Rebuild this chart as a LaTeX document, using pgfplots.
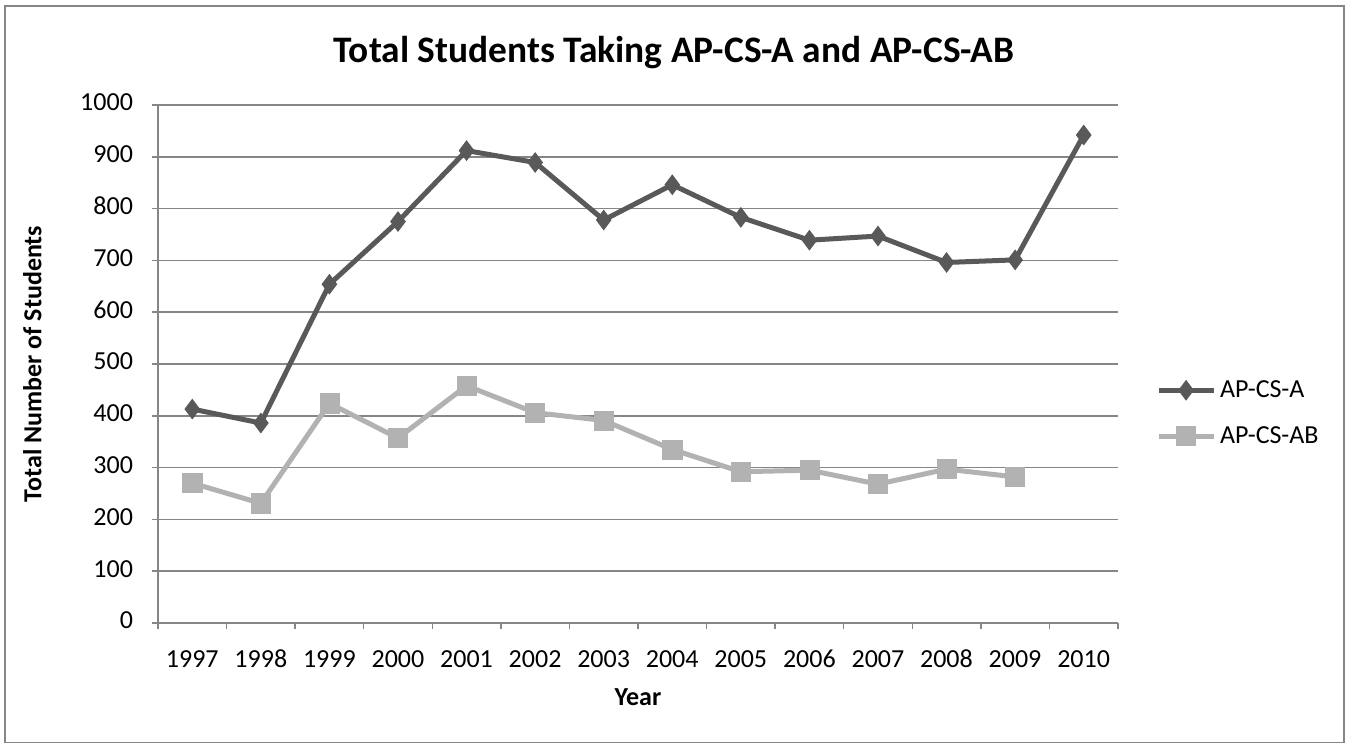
\documentclass[border=0pt]{standalone}
\usepackage{fontspec}
\setmainfont{Carlito}
\usepackage{pgfplots}
\pgfplotsset{compat=1.18}

\definecolor{seriesA}{HTML}{595959}
\definecolor{seriesAB}{HTML}{B2B2B2}
\definecolor{gridgray}{HTML}{868686}

\begin{document}
\begin{tikzpicture}
% outer chart frame (1px = 0.5pt)
\path (0,0) rectangle (673pt,372.5pt);
\draw[gridgray, line width=0.75pt] (2.5pt,1.2pt) rectangle (672pt,369.6pt);
\node[font=\fontsize{18.7}{22}\selectfont\bfseries] at (337pt,346pt) {Total Students Taking AP-CS-A and AP-CS-AB};
\begin{axis}[
    at={(79pt,61pt)}, anchor=south west,
    width=480pt, height=259pt, scale only axis,
    xmin=1996.5, xmax=2010.5,
    ymin=0, ymax=1000,
    xtick={1997,...,2010},
    minor xtick={1996.5,1997.5,...,2010.5},
    ytick={0,100,...,1000},
    major x tick style={draw=none},
    minor x tick style={gridgray, line width=0.75pt},
    y tick style={gridgray, line width=0.75pt},
    tick align=outside,
    major tick length=3pt, minor tick length=3pt,
    axis x line*=bottom, axis y line*=left,
    axis line style={gridgray, line width=0.75pt, -},
    ymajorgrids,
    grid style={gridgray, line width=0.75pt},
    typeset ticklabels with strut,
    xticklabel style={/pgf/number format/1000 sep={}, yshift=-5pt},
    /pgf/number format/assume math mode=true,
    ticklabel style={font=\fontsize{13}{15}\selectfont},
    yticklabel style={/pgf/number format/1000 sep={}, xshift=-6pt},
    xlabel={Year},
    ylabel={Total Number of Students},
    label style={font=\fontsize{13}{15}\selectfont\bfseries},
    xlabel style={at={(axis description cs:0.5,-0.143)}, anchor=center},
    ylabel style={at={(axis description cs:-0.131,0.5)}, anchor=center, rotate=0},
    legend style={draw=none, fill=none, at={(axis description cs:1.033,0.405)}, anchor=west,
        font=\fontsize{13}{15}\selectfont, row sep=9pt},
    legend cell align=left,
    legend image code/.code={\draw[mark repeat=2, mark phase=2] plot coordinates {(0pt,0pt) (13.75pt,0pt) (27.5pt,0pt)};},
]
\addplot[seriesA, line width=2.5pt, mark=diamond*, mark size=4.8pt, mark options={solid, line width=0.5pt, fill=seriesA}]
coordinates {
(1997,413) (1998,386) (1999,654) (2000,775) (2001,912) (2002,889) (2003,778)
(2004,846) (2005,783) (2006,739) (2007,747) (2008,696) (2009,701) (2010,942)
};
\addplot[seriesAB, line width=2.5pt, mark=square*, mark size=4.8pt, mark options={solid, line width=0.3pt, fill=seriesAB}]
coordinates {
(1997,270) (1998,231) (1999,424) (2000,357) (2001,458) (2002,406) (2003,391)
(2004,335) (2005,292) (2006,295) (2007,268) (2008,297) (2009,282)
};
\legend{AP-CS-A, AP-CS-AB}
\end{axis}
\end{tikzpicture}
\end{document}
